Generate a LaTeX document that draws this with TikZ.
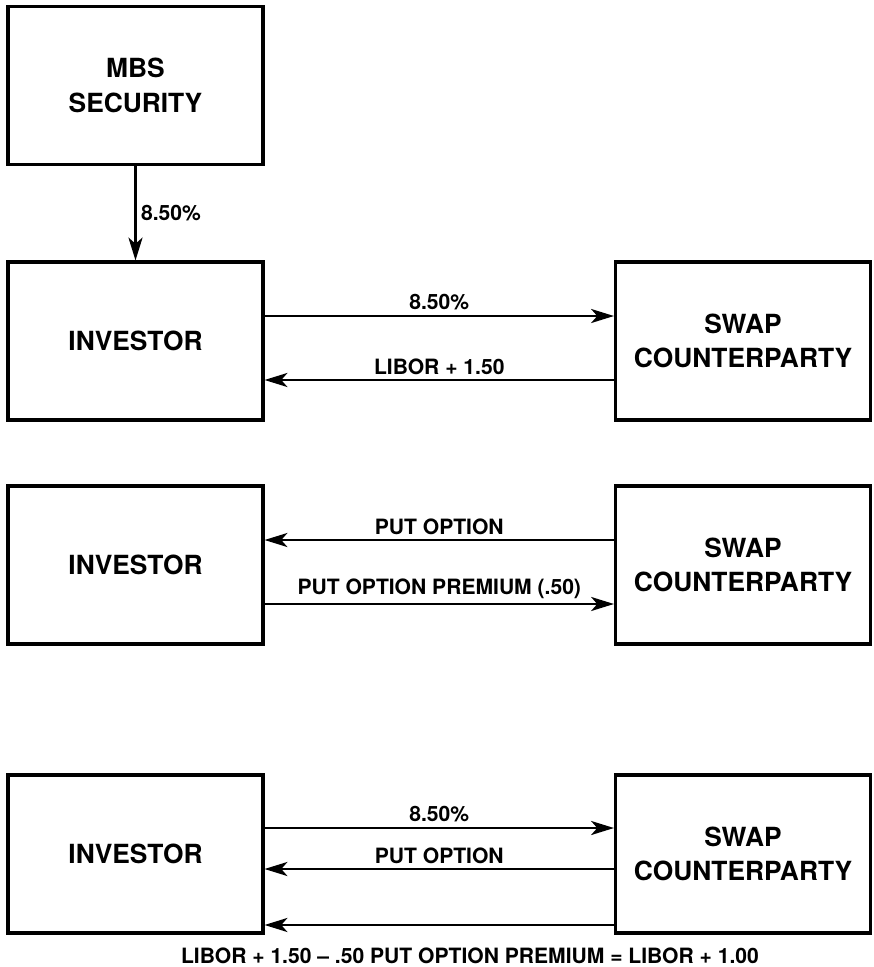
\documentclass[tikz,border=0pt]{standalone}
\usepackage{fontspec}
\setmainfont{TeX Gyre Heros}
\usetikzlibrary{arrows.meta}

\begin{document}
\begin{tikzpicture}[x=0.02cm, y=-0.02cm,
    caja/.style={draw, line width=1.8pt, minimum width=5.1cm, minimum height=3.16cm,
        align=center, font=\fontsize{15}{19.5}\selectfont\bfseries},
    flujo/.style={line width=1.4pt, -{Stealth[length=13pt, width=8pt, inset=3.5pt]}},
    etiq/.style={font=\fontsize{12}{14}\selectfont\bfseries, inner sep=2.5pt}]
    \useasboundingbox (0,0) rectangle (873,967);
    % Cajas
    \node[caja] (mbs) at (135.5,85.5) {MBS\\SECURITY};
    \node[caja] (inv1) at (135.5,341) {INVESTOR};
    \node[caja] (swap1) at (743,341) {SWAP\\COUNTERPARTY};
    \node[caja] (inv2) at (135.5,565) {INVESTOR};
    \node[caja] (swap2) at (743,565) {SWAP\\COUNTERPARTY};
    \node[caja] (inv3) at (135.5,854) {INVESTOR};
    \node[caja] (swap3) at (743,854) {SWAP\\COUNTERPARTY};
    % Swap
    \draw[flujo] (mbs) -- (inv1) node[midway, right, etiq] {8.50\%};
    \draw[flujo] ([yshift=0.5cm]inv1.east) -- ([yshift=0.5cm]swap1.west)
        node[midway, above, etiq] {8.50\%};
    \draw[flujo] ([yshift=-0.78cm]swap1.west) -- ([yshift=-0.78cm]inv1.east)
        node[midway, above, etiq] {LIBOR + 1.50};
    % Opcion put
    \draw[flujo] ([yshift=0.5cm]swap2.west) -- ([yshift=0.5cm]inv2.east)
        node[midway, above, etiq] {PUT OPTION};
    \draw[flujo] ([yshift=-0.78cm]inv2.east) -- ([yshift=-0.78cm]swap2.west)
        node[midway, above, etiq] {PUT OPTION PREMIUM (.50)};
    % Resultado
    \draw[flujo] ([yshift=0.52cm]inv3.east) -- ([yshift=0.52cm]swap3.west)
        node[midway, above, etiq] {8.50\%};
    \draw[flujo] ([yshift=-0.3cm]swap3.west) -- ([yshift=-0.3cm]inv3.east)
        node[midway, above, etiq] {PUT OPTION};
    \draw[flujo] ([yshift=-1.42cm]swap3.west) -- ([yshift=-1.42cm]inv3.east);
    \node[etiq] (nota) at (470,956) {LIBOR + 1.50 – .50 PUT OPTION PREMIUM = LIBOR + 1.00};
\end{tikzpicture}
\end{document}
